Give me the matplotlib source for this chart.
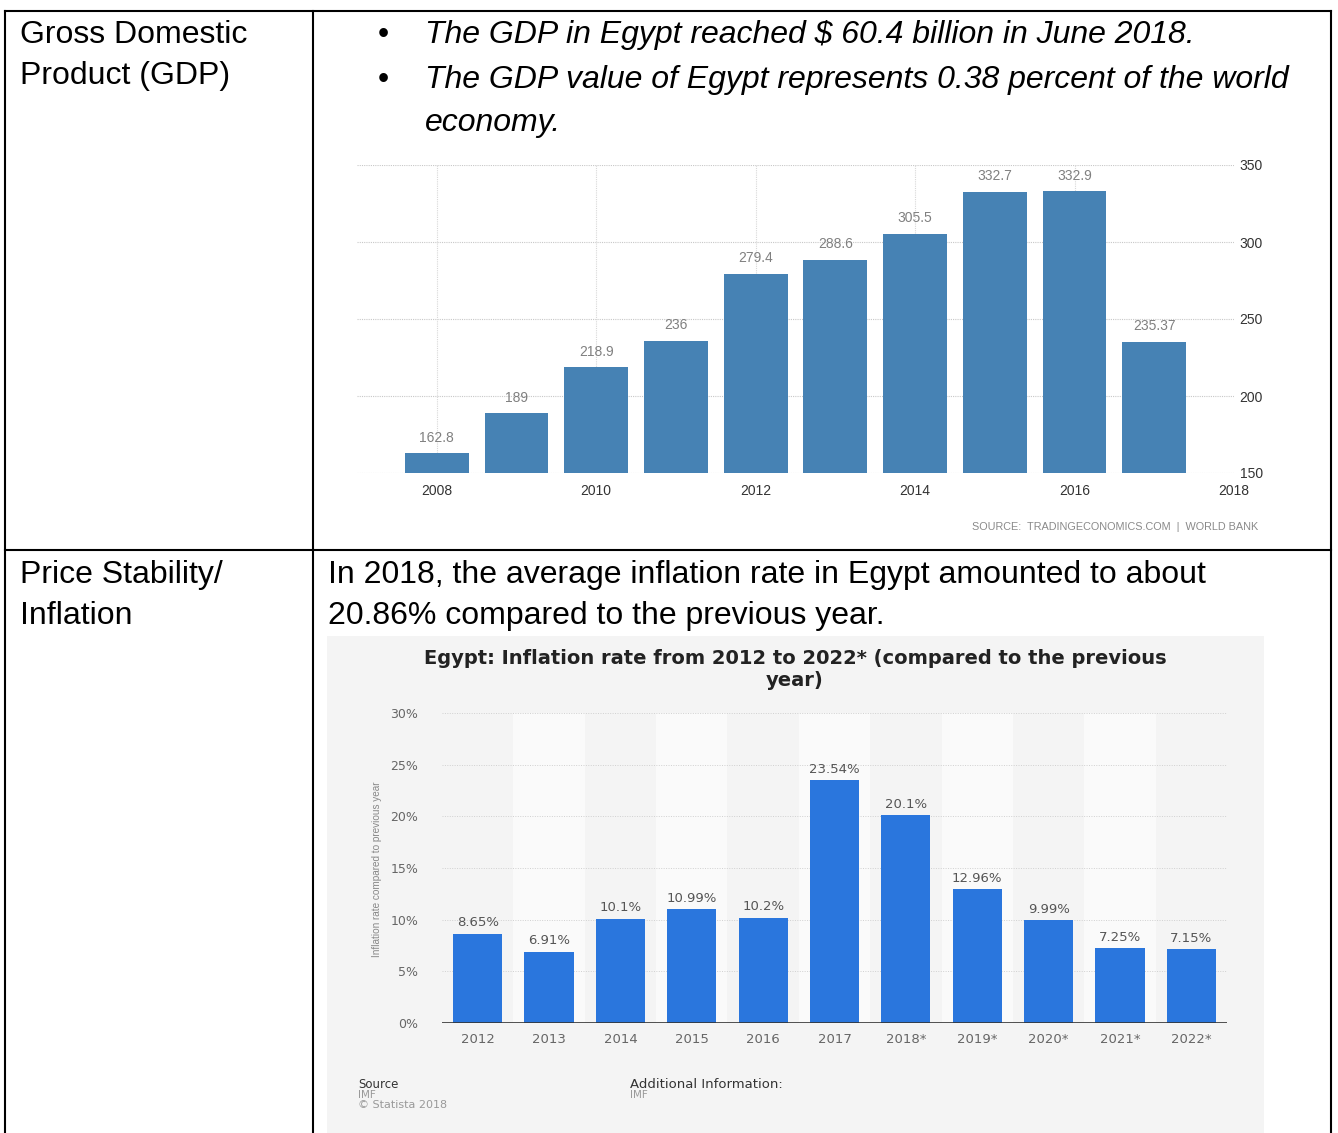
import matplotlib
matplotlib.use("Agg")
import matplotlib.pyplot as plt
from matplotlib.patches import Rectangle

# ---------------- data ----------------
gdp_years = [2008, 2009, 2010, 2011, 2012, 2013, 2014, 2015, 2016, 2017]
gdp_values = [162.8, 189, 218.9, 236, 279.4, 288.6, 305.5, 332.7, 332.9, 235.37]
gdp_labels = ["162.8", "189", "218.9", "236", "279.4", "288.6", "305.5", "332.7", "332.9", "235.37"]
gdp_xticks = [2008, 2010, 2012, 2014, 2016, 2018]
gdp_yticks = [150, 200, 250, 300, 350]

inf_years = ["2012", "2013", "2014", "2015", "2016", "2017", "2018*", "2019*", "2020*", "2021*", "2022*"]
inf_values = [8.65, 6.91, 10.1, 10.99, 10.2, 23.54, 20.1, 12.96, 9.99, 7.25, 7.15]
inf_labels = ["8.65%", "6.91%", "10.1%", "10.99%", "10.2%", "23.54%", "20.1%", "12.96%", "9.99%", "7.25%", "7.15%"]
inf_yticks = [0, 5, 10, 15, 20, 25, 30]

W, H = 1338, 1133
fig = plt.figure(figsize=(W / 100, H / 100), dpi=100)
fig.patch.set_facecolor("white")


def rect(x0, y0, x1, y1):
    return [x0 / W, 1 - y1 / H, (x1 - x0) / W, (y1 - y0) / H]


# ---------------- background / table ----------------
bg = fig.add_axes([0, 0, 1, 1])
bg.set_xlim(0, W)
bg.set_ylim(H, 0)
bg.axis("off")

lw = 1.5
bg.plot([5, 1331], [11, 11], color="black", lw=lw, solid_capstyle="projecting")
bg.plot([5, 1331], [550, 550], color="black", lw=lw)
bg.plot([5, 5], [11, H], color="black", lw=lw)
bg.plot([313, 313], [11, H], color="black", lw=lw)
bg.plot([1331, 1331], [11, H], color="black", lw=lw)

bg.add_patch(Rectangle((327, 636), 937, 497, facecolor="#f4f4f4", edgecolor="none"))

tf = dict(family=["Liberation Sans", "DejaVu Sans"], fontsize=23, color="black", va="baseline")
bg.text(20, 43, "Gross Domestic", **tf)
bg.text(20, 84, "Product (GDP)", **tf)
bg.text(383, 43, "\u2022", ha="center", **tf)
bg.text(383, 88, "\u2022", ha="center", **tf)
bg.text(425, 43, "The GDP in Egypt reached $ 60.4 billion in June 2018.", style="italic", **tf)
bg.text(425, 88, "The GDP value of Egypt represents 0.38 percent of the world", style="italic", **tf)
bg.text(425, 131, "economy.", style="italic", **tf)
bg.text(20, 583, "Price Stability/", **tf)
bg.text(20, 624, "Inflation", **tf)
bg.text(328, 583, "In 2018, the average inflation rate in Egypt amounted to about", **tf)
bg.text(328, 624, "20.86% compared to the previous year.", **tf)

# ---------------- GDP chart ----------------
ax1 = fig.add_axes(rect(357, 165, 1234, 473))
ax1.set_facecolor("none")
ax1.set_xlim(2007, 2018)
ax1.set_ylim(150, 350)
bars = ax1.bar(gdp_years, gdp_values, width=0.8, color="#4682b4", zorder=3)
for b, lab in zip(bars, gdp_labels):
    ax1.annotate(lab, (b.get_x() + b.get_width() / 2, b.get_height()),
                 xytext=(0, 6), textcoords="offset points", ha="center", va="bottom",
                 fontsize=10, color="#808080", family=["Liberation Sans", "DejaVu Sans"])
for s in ax1.spines.values():
    s.set_visible(False)
ax1.yaxis.tick_right()
ax1.set_yticks(gdp_yticks)
ax1.set_xticks(gdp_xticks)
ax1.tick_params(axis="both", length=0, labelsize=10, labelcolor="#333333")
ax1.tick_params(axis="y", pad=4)
ax1.tick_params(axis="x", pad=8)
for lab in ax1.get_xticklabels() + ax1.get_yticklabels():
    lab.set_family(["Liberation Sans", "DejaVu Sans"])
for y in gdp_yticks:
    ax1.axhline(y, color="#c8c8c8", lw=0.8, ls=(0, (1, 1)), zorder=1)
for x in gdp_xticks[:-1]:
    ax1.axvline(x, color="#d8d8d8", lw=0.8, ls=(0, (1, 1)), zorder=1)

bg.text(1258, 527, "SOURCE:  TRADINGECONOMICS.COM  |  WORLD BANK", ha="right", va="center",
        fontsize=7.8, color="#8a8a8a", family=["Liberation Sans", "DejaVu Sans"])

# ---------------- Inflation chart ----------------
ax2 = fig.add_axes(rect(442, 713, 1227, 1023))
ax2.set_facecolor("none")
ax2.set_xlim(-0.5, len(inf_years) - 0.5)
ax2.set_ylim(0, 30)
for i in range(len(inf_years)):
    if i % 2 == 1:
        ax2.axvspan(i - 0.5, i + 0.5, color="#fafafa", zorder=0, lw=0)
for y in inf_yticks[1:]:
    ax2.axhline(y, color="#d0d0d0", lw=0.7, ls=(0, (1, 1.5)), zorder=1)
ax2.axhline(0, color="#333333", lw=1.2, zorder=4)
xs = list(range(len(inf_years)))
bars2 = ax2.bar(xs, inf_values, width=0.69, color="#2a76dd", zorder=3)
for b, lab in zip(bars2, inf_labels):
    ax2.annotate(lab, (b.get_x() + b.get_width() / 2, b.get_height()),
                 xytext=(0, 3), textcoords="offset points", ha="center", va="bottom",
                 fontsize=9.5, color="#555555")
for s in ax2.spines.values():
    s.set_visible(False)
ax2.set_xticks(xs)
ax2.set_xticklabels(inf_years)
ax2.set_yticks(inf_yticks)
ax2.set_yticklabels([f"{v}%" for v in inf_yticks])
ax2.tick_params(axis="both", length=0, labelcolor="#666666")
ax2.tick_params(axis="x", labelsize=9.5, pad=7)
ax2.tick_params(axis="y", labelsize=9, pad=17)

bg.text(795, 659, "Egypt: Inflation rate from 2012 to 2022* (compared to the previous",
        ha="center", va="center", fontsize=14, fontweight="bold", color="#222222")
bg.text(795, 681, "year)", ha="center", va="center", fontsize=14, fontweight="bold", color="#222222")
bg.text(377, 869, "Inflation rate compared to previous year", rotation=90, ha="center", va="center",
        fontsize=7.2, color="#888888", family=["Liberation Sans", "DejaVu Sans"])

bg.text(358, 1084, "Source", ha="left", va="center", fontsize=8.5, color="#333333")
bg.text(358, 1095, "IMF", ha="left", va="center", fontsize=7.5, color="#999999")
bg.text(358, 1105, "\u00a9 Statista 2018", ha="left", va="center", fontsize=8, color="#999999")
bg.text(630, 1084, "Additional Information:", ha="left", va="center", fontsize=9.5, color="#333333")
bg.text(630, 1095, "IMF", ha="left", va="center", fontsize=7.5, color="#999999")

fig.savefig("out.png", dpi=100)
